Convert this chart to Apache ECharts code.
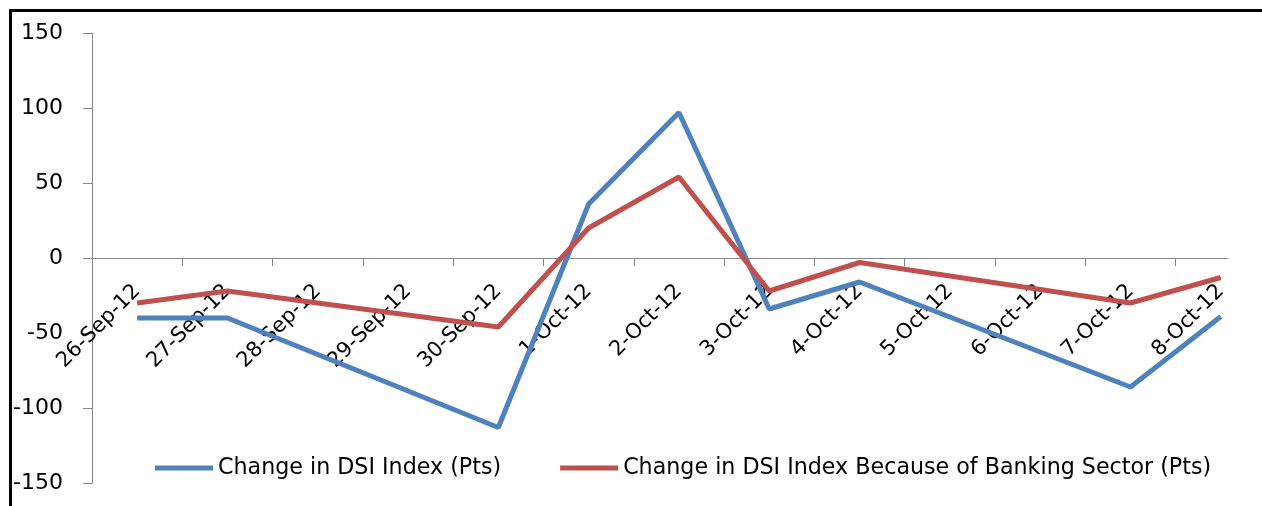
<!DOCTYPE html>
<html>
<head>
<meta charset="utf-8">
<script src="https://cdn.jsdelivr.net/npm/echarts@6/dist/echarts.min.js"></script>
<style>
  html, body { margin: 0; padding: 0; background: #fff; overflow: hidden; width: 1262px; height: 506px; }
  #chart { position: absolute; left: 0; top: 0; width: 1262px; height: 506px; }
  #frame { position: absolute; left: 9px; top: 9px; width: 1250px; height: 494px;
           border-left: 3px solid #000; border-top: 3px solid #000; pointer-events: none; }
</style>
</head>
<body>
<div id="chart"></div>
<div id="frame"></div>
<script>
// Categories (dates) and series values; null = no trading day
const dates = ['26-Sep-12','27-Sep-12','28-Sep-12','29-Sep-12','30-Sep-12','1-Oct-12','2-Oct-12',
               '3-Oct-12','4-Oct-12','5-Oct-12','6-Oct-12','7-Oct-12','8-Oct-12'];
const dsiChange     = [-40, -40, null, null, -113, 36, 97, -34, -16, null, null, -86, -39];
const bankingChange = [-30, -22, null, null, -46, 20, 54, -22, -3, null, null, -30, -13];
const yTicks = [-150, -100, -50, 0, 50, 100, 150];
const seriesNames = ['Change in DSI Index (Pts)', 'Change in DSI Index Because of Banking Sector (Pts)'];

const toPairs = vals => vals.map((v, i) => [i, v]).filter(p => p[1] !== null);
const labelPositions = dates.map((d, i) => i);
const tickPositions = dates.slice(1).map((d, i) => i + 0.5);

const FONT = 'DejaVu Sans';
const GRID = { left: 92, right: 34, top: 33, bottom: 23 };
const chart = echarts.init(document.getElementById('chart'), null, { renderer: 'canvas' });
chart.setOption({
  animation: false,
  backgroundColor: '#ffffff',
  textStyle: { fontFamily: FONT },
  grid: Object.assign({ containLabel: false, outerBoundsMode: 'none' }, GRID),
  legend: {
    left: 150, top: 452,
    icon: 'rect',
    itemWidth: 58, itemHeight: 5, itemGap: 59,
    textStyle: { fontFamily: FONT, fontSize: 22.2, color: '#000' },
    data: seriesNames
  },
  xAxis: {
    type: 'value',
    min: -0.5,
    max: 12.08,
    offset: 0,
    axisLine: { show: true, onZero: false, lineStyle: { color: '#868686', width: 1 } },
    axisTick: { show: true, inside: false, length: 8, customValues: tickPositions,
                lineStyle: { color: '#868686' } },
    axisLabel: {
      customValues: labelPositions,
      rotate: 45, margin: 30,
      hideOverlap: false,
      fontFamily: FONT, fontSize: 21, color: '#000',
      formatter: v => dates[Math.round(v)]
    },
    splitLine: { show: false }
  },
  yAxis: {
    type: 'value',
    min: yTicks[0], max: yTicks[yTicks.length - 1], interval: 50,
    axisLine: { show: true, onZero: false, lineStyle: { color: '#868686', width: 1 } },
    axisTick: { show: true, inside: false, length: 9, lineStyle: { color: '#868686' } },
    axisLabel: { margin: 29, fontFamily: FONT, fontSize: 22, color: '#000' },
    splitLine: { show: false }
  },
  series: [
    {
      name: seriesNames[0], type: 'line', data: toPairs(dsiChange),
      symbol: 'none', lineStyle: { color: '#4F81BD', width: 5 }, itemStyle: { color: '#4F81BD' }
    },
    {
      name: seriesNames[1], type: 'line', data: toPairs(bankingChange),
      symbol: 'none', lineStyle: { color: '#C0504D', width: 5 }, itemStyle: { color: '#C0504D' }
    }
  ]
});
// Move the category axis up to the zero line, using the library's own y scale
const zeroY = chart.convertToPixel({ yAxisIndex: 0 }, 0);
const bottomY = chart.convertToPixel({ yAxisIndex: 0 }, yTicks[0]);
chart.setOption({ xAxis: { offset: zeroY - bottomY } });
</script>
</body>
</html>
